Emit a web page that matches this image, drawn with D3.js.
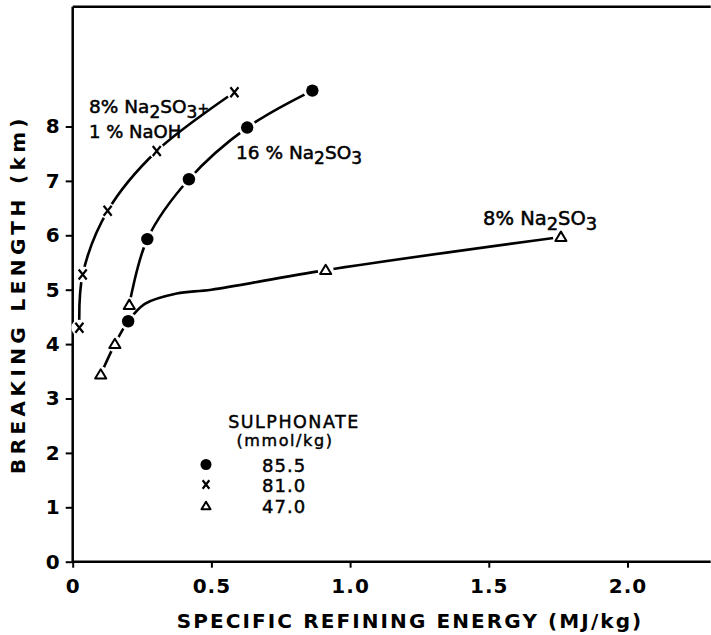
<!DOCTYPE html>
<html><head><meta charset="utf-8">
<script src="https://cdn.jsdelivr.net/npm/d3@7"></script>
<style>body{margin:0;background:#fff}svg{display:block}</style>
</head><body>
<svg id="chart" width="711" height="635"></svg>
<script>
// Measured points: [specific refining energy (MJ/kg), breaking length (km)]
const points855 = [[0.200,4.42],[0.269,5.93],[0.419,7.03],[0.629,7.98],[0.864,8.66]];
const points810 = [[0.024,4.30],[0.036,5.28],[0.126,6.45],[0.303,7.55],[0.583,8.63]];
const points470 = [[0.101,3.44],[0.152,4.00],[0.204,4.72],[0.912,5.36],[1.760,5.97]];

// Hand-drawn trend curves
const curveNaOH = [[0.024,4.30],[0.036,5.28],[0.126,6.45],[0.303,7.55],[0.583,8.63]];
const curve16 = [[0.204,4.72],[0.269,5.93],[0.419,7.03],[0.629,7.98],[0.864,8.66]];
const curve8 = [[0.101,3.44],[0.152,4.00],[0.200,4.42],[0.260,4.74],[0.375,4.93],[0.500,5.00],[0.912,5.36],[1.760,5.97]];

const xTicks = [0, 0.5, 1.0, 1.5, 2.0];
const xTickLabels = ["0", "0.5", "1.0", "1.5", "2.0"];
const yTicks = [0, 1, 2, 3, 4, 5, 6, 7, 8];

const legendTitle = ["SULPHONATE", "(mmol/kg)"];
const legendValues = ["85.5", "81.0", "47.0"];

const svg = d3.select("#chart");
const x = d3.scaleLinear().domain([0, 2.3]).range([72.7, 710.7]);
const y = d3.scaleLinear().domain([0, 10.2]).range([561.7, 6.8]);

const font = "'DejaVu Sans', sans-serif";

// Axes
const xAxis = svg.append("g").attr("transform", `translate(0,${y(0)})`)
  .call(d3.axisBottom(x).tickValues(xTicks).tickFormat((d, i) => xTickLabels[i]).tickSize(6).tickPadding(8));
const yAxis = svg.append("g").attr("transform", `translate(${x(0)},0)`)
  .call(d3.axisLeft(y).tickValues(yTicks).tickFormat(d3.format("d")).tickSize(7).tickPadding(6));
[xAxis, yAxis].forEach(g => {
  g.select(".domain").remove();
  g.selectAll(".tick line").attr("stroke", "#000").attr("stroke-width", 2);
  g.selectAll(".tick text").attr("fill", "#000").style("font-family", font)
    .style("font-size", "20px").style("font-weight", "bold");
});
xAxis.selectAll(".tick text").attr("dy", "0.88em").style("letter-spacing", "1px");

// Frame: left axis, bottom axis, top edge
svg.append("path")
  .attr("d", `M${x(0)},${y(10.2)}V${y(0)}H${x(2.3)}M${x(0)},${y(10.2)}H${x(2.3)}`)
  .attr("fill", "none").attr("stroke", "#000").attr("stroke-width", 2.5);

// Curves
const line = d3.line().x(d => x(d[0])).y(d => y(d[1])).curve(d3.curveCatmullRom.alpha(0.5));
[curveNaOH, curve16, curve8].forEach(c => {
  svg.append("path").attr("d", line(c)).attr("fill", "none")
    .attr("stroke", "#000").attr("stroke-width", 2.6).attr("stroke-linecap", "round");
});

// Marker shapes
function drawDot(g, r) {
  g.append("circle").attr("r", r).attr("fill", "#000");
}
function drawCross(g, s) {
  g.append("path").attr("d", `M${-s*0.8},${-s}L${s*0.8},${s}M${s*0.8},${-s}L${-s*0.8},${s}`)
    .attr("stroke", "#000").attr("stroke-width", 2.2).attr("fill", "none");
}
function drawTriangle(g, s) {
  g.append("path").attr("d", `M0,${-s}L${s*1.05},${s*0.75}L${-s*1.05},${s*0.75}Z`)
    .attr("stroke", "#000").attr("stroke-width", 2).attr("fill", "#fff").attr("stroke-linejoin", "round");
}
function halo(g, r) {
  g.append("circle").attr("r", r).attr("fill", "#fff");
}

function markers(data, draw, size, haloR) {
  svg.append("g").selectAll("g").data(data).join("g")
    .attr("transform", d => `translate(${x(d[0])},${y(d[1])})`)
    .each(function () { const g = d3.select(this); halo(g, haloR); draw(g, size); });
}
markers(points855, drawDot, 6.2, 9);
markers(points810, drawCross, 5, 8);
markers(points470, drawTriangle, 5.3, 8);

// Curve labels with subscripts
function chemLabel(px, py, parts, size) {
  const t = svg.append("text").attr("x", px).attr("y", py)
    .style("font-family", font).style("font-size", size + "px")
    .attr("fill", "#000").attr("stroke", "#000").attr("stroke-width", 0.5);
  parts.forEach(p => {
    const ts = t.append("tspan").text(p.t);
    if (p.sub) ts.attr("dy", "0.3em").style("font-size", (size * 0.92) + "px");
    if (p.up) ts.attr("dy", "-0.3em");
    if (p.small) ts.style("font-size", (size * 0.75) + "px").attr("dy", "-0.3em");
  });
  return t;
}
chemLabel(89, 113, [{t:"8% Na"},{t:"2",sub:1},{t:"SO",up:1},{t:"3",sub:1},{t:"+",small:1}], 18.5);
chemLabel(89, 138, [{t:"1 % NaOH"}], 18);
chemLabel(236, 159, [{t:"16 % Na"},{t:"2",sub:1},{t:"SO",up:1},{t:"3",sub:1}], 18.5);
chemLabel(483, 225, [{t:"8% Na"},{t:"2",sub:1},{t:"SO",up:1},{t:"3",sub:1}], 19.5);

// Legend
const lg = svg.append("g").style("font-family", font).attr("fill", "#000")
  .attr("stroke", "#000").attr("stroke-width", 0.45);
lg.append("text").attr("x", 294).attr("y", 428).attr("text-anchor", "middle")
  .style("font-size", "17.5px").style("letter-spacing", "1.5px").text(legendTitle[0]);
lg.append("text").attr("x", 285).attr("y", 446).attr("text-anchor", "middle")
  .style("font-size", "16px").style("letter-spacing", "1.6px").text(legendTitle[1]);
const rowY = [471.5, 491.5, 513];
legendValues.forEach((v, i) => {
  lg.append("text").attr("x", 262).attr("y", rowY[i]).style("font-size", "18px")
    .style("letter-spacing", "1px").text(v);
});
const lm = [drawDot, drawCross, drawTriangle];
const ls = [5.5, 4.2, 4.3];
lm.forEach((fn, i) => {
  const g = svg.append("g").attr("transform", `translate(206,${rowY[i] - 7})`);
  fn(g, ls[i]);
});

// Axis titles
svg.append("text").attr("x", 410).attr("y", 628).attr("text-anchor", "middle")
  .style("font-family", font).style("font-size", "20px").style("font-weight", "bold")
  .style("letter-spacing", "2.1px").text("SPECIFIC REFINING ENERGY (MJ/kg)");
svg.append("text").attr("transform", "translate(25,294) rotate(-90)").attr("text-anchor", "middle")
  .style("font-family", font).style("font-size", "20px").style("font-weight", "bold")
  .style("letter-spacing", "4.4px").text("BREAKING LENGTH (km)");
</script>
</body></html>
